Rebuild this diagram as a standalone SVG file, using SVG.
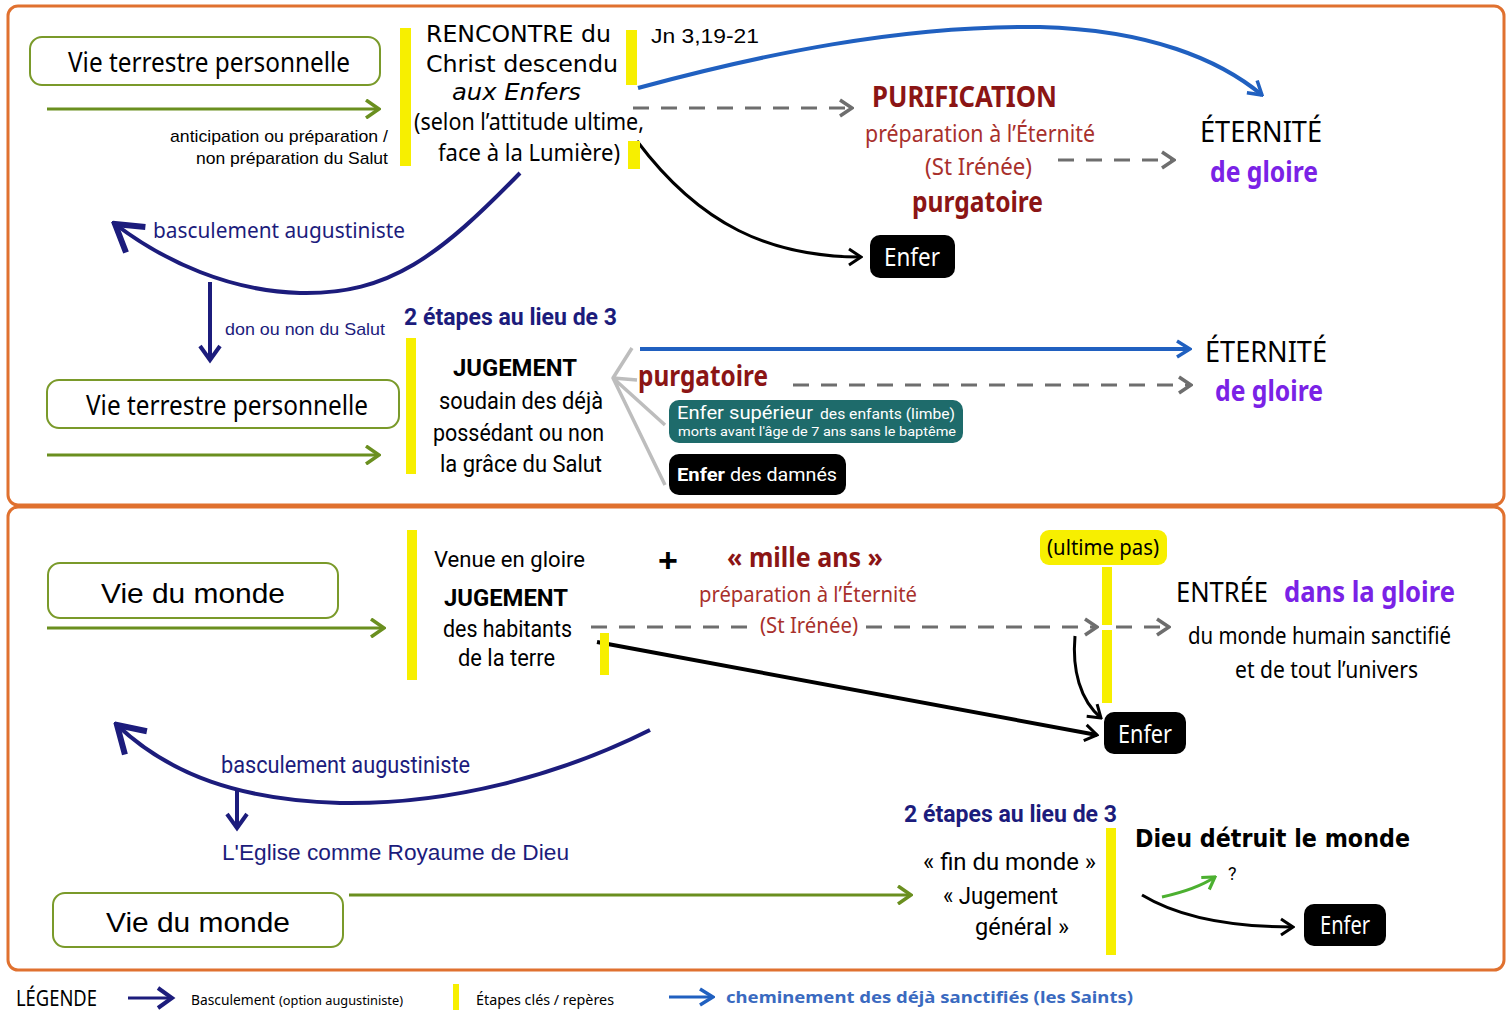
<svg xmlns="http://www.w3.org/2000/svg" width="1512" height="1020" viewBox="0 0 1512 1020">
<style>
.frame{fill:none;stroke:#e0712f;stroke-width:3}
.box{fill:#fff;stroke:#7a9a2a;stroke-width:2}
.yb{fill:#f7ef00}
.ns{font-family:"Noto Sans","Open Sans",sans-serif}
.ls{font-family:"Liberation Sans",Arial,sans-serif}
.rb{font-family:Roboto,"Liberation Sans",sans-serif}
.dv{font-family:"DejaVu Sans",sans-serif}
.dr{fill:#8b1515}
.rr{fill:#a8302c}
.pu{fill:#7a22e6}
.nv{fill:#1c1c7c}
.blk{fill:#000}
.wh{fill:#fff}
.green{fill:none;stroke:#6a8f1f;stroke-width:3}
.dash{fill:none;stroke:#6e6e6e;stroke-width:3;stroke-dasharray:16 12}
.navy{fill:none;stroke:#1c1c7c;stroke-width:4}
.blue{fill:none;stroke:#2060c0;stroke-width:4}
.black{fill:none;stroke:#000;stroke-width:3}
.enf{fill:#000}
</style>
<defs>
<marker id="mg" viewBox="0 0 20 20" refX="18" refY="10" markerWidth="20" markerHeight="20" orient="auto" markerUnits="userSpaceOnUse"><path d="M5,1 L18,10 L5,19" fill="none" stroke="#6a8f1f" stroke-width="3.5"/></marker>
<marker id="mgr" viewBox="0 0 20 20" refX="18" refY="10" markerWidth="20" markerHeight="20" orient="auto" markerUnits="userSpaceOnUse"><path d="M6,2 L18,10 L6,18" fill="none" stroke="#6e6e6e" stroke-width="3.5"/></marker>
<marker id="mb" viewBox="0 0 20 20" refX="18" refY="10" markerWidth="20" markerHeight="20" orient="auto" markerUnits="userSpaceOnUse"><path d="M6,2 L18,10 L6,18" fill="none" stroke="#000" stroke-width="3"/></marker>
<marker id="mn" viewBox="0 0 24 24" refX="20" refY="12" markerWidth="24" markerHeight="24" orient="auto" markerUnits="userSpaceOnUse"><path d="M6,2 L20,12 L6,22" fill="none" stroke="#1c1c7c" stroke-width="4"/></marker>
<marker id="mnb" viewBox="0 0 40 40" refX="36" refY="20" markerWidth="40" markerHeight="40" orient="auto" markerUnits="userSpaceOnUse"><path d="M10,4 L36,20 L10,36" fill="none" stroke="#1c1c7c" stroke-width="6"/></marker>
<marker id="mbl" viewBox="0 0 20 20" refX="18" refY="10" markerWidth="20" markerHeight="20" orient="auto" markerUnits="userSpaceOnUse"><path d="M5,2 L18,10 L5,18" fill="none" stroke="#2060c0" stroke-width="3.5"/></marker>
<marker id="mlg" viewBox="0 0 20 20" refX="18" refY="10" markerWidth="18" markerHeight="18" orient="auto" markerUnits="userSpaceOnUse"><path d="M5,2 L18,10 L5,18" fill="none" stroke="#4cb030" stroke-width="3.5"/></marker>
</defs>
<rect width="1512" height="1020" fill="#fff"/>
<rect class="frame" x="8" y="6" width="1496" height="499" rx="10"/>
<rect class="frame" x="8" y="507" width="1496" height="463" rx="10"/>

<g id="connectors">
<line class="green" x1="47" y1="109" x2="379" y2="109" marker-end="url(#mg)"/>
<line class="green" x1="47" y1="455" x2="379" y2="455" marker-end="url(#mg)"/>
<line class="green" x1="47" y1="628" x2="384" y2="628" marker-end="url(#mg)"/>
<line class="green" x1="349" y1="895" x2="911" y2="895" marker-end="url(#mg)"/>
<path class="blue" d="M638,88 C760,55 900,25 1040,27 C1150,30 1220,60 1262,95" marker-end="url(#mbl)"/>
<line class="dash" x1="633" y1="108" x2="852" y2="108" marker-end="url(#mgr)"/>
<line class="dash" x1="1058" y1="160" x2="1174" y2="160" marker-end="url(#mgr)"/>
<path class="black" d="M637,141 C700,225 770,257 861,257" marker-end="url(#mb)"/>
<path class="navy" d="M520,173 C440,255 390,295 300,293 C230,291 165,262 115,224" marker-end="url(#mnb)" stroke-width="4.5"/>
<line class="navy" x1="210" y1="282" x2="210" y2="360" marker-end="url(#mn)"/>
<line class="blue" x1="640" y1="349" x2="1190" y2="349" marker-end="url(#mbl)"/>
<line class="dash" x1="793" y1="385" x2="1191" y2="385" marker-end="url(#mgr)"/>
<path d="M632,348 L613,378 L637,380 M613,378 L665,425 M613,378 L665,485" fill="none" stroke="#bdbdbd" stroke-width="3.5" stroke-linejoin="round"/>
<line class="dash" x1="591" y1="627" x2="756" y2="627"/>
<line class="dash" x1="866" y1="627" x2="1097" y2="627" marker-end="url(#mgr)"/>
<line class="dash" x1="1116" y1="627" x2="1169" y2="627" stroke-dasharray="22 10" marker-end="url(#mgr)"/>
<line x1="597" y1="642" x2="1097" y2="735" stroke="#000" stroke-width="4" marker-end="url(#mb)"/>
<path class="black" d="M1075,636 C1072,670 1080,700 1101,718" marker-end="url(#mb)"/>
<path class="navy" d="M650,730 C560,775 450,805 340,803 C240,800 170,775 117,725" marker-end="url(#mnb)" stroke-width="5"/>
<line class="navy" x1="237" y1="790" x2="237" y2="828" marker-end="url(#mn)"/>
<path d="M1162,897 C1180,893 1200,887 1215,877" fill="none" stroke="#4cb030" stroke-width="3" marker-end="url(#mlg)"/>
<path class="black" d="M1142,895 C1180,918 1230,927 1293,927" marker-end="url(#mb)"/>
</g>

<g id="stages">
<rect class="yb" x="400" y="28" width="11" height="138"/>
<rect class="yb" x="626" y="30" width="11" height="55"/>
<rect class="yb" x="628" y="141" width="12" height="28"/>
<rect class="yb" x="406" y="338" width="10" height="136"/>
<rect class="yb" x="407" y="530" width="10" height="150"/>
<rect class="yb" x="600" y="633" width="9" height="42"/>
<rect class="yb" x="1102" y="567" width="10" height="58"/>
<rect class="yb" x="1102" y="630" width="10" height="73"/>
<rect class="yb" x="1106" y="828" width="10" height="127"/>
</g>

<g id="n-vie1">
<rect class="box" x="30" y="37" width="350" height="48" rx="12"/>
<text class="ns blk" x="68" y="72" font-size="27" textLength="282" lengthAdjust="spacingAndGlyphs">Vie terrestre personnelle</text>
<text class="ls blk" x="170" y="142" font-size="17" textLength="218" lengthAdjust="spacingAndGlyphs">anticipation ou préparation /</text>
<text class="ls blk" x="196" y="164" font-size="17" textLength="192" lengthAdjust="spacingAndGlyphs">non préparation du Salut</text>
</g>

<g id="n-rencontre">
<text class="dv blk" x="426" y="42" font-size="23" textLength="185" lengthAdjust="spacingAndGlyphs">RENCONTRE du</text>
<text class="dv blk" x="426" y="72" font-size="23" textLength="192" lengthAdjust="spacingAndGlyphs">Christ descendu</text>
<text class="dv blk" x="452" y="100" font-size="23" font-style="italic" textLength="129" lengthAdjust="spacingAndGlyphs">aux Enfers</text>
<text class="ns blk" x="414" y="130" font-size="23" textLength="230" lengthAdjust="spacingAndGlyphs">(selon l’attitude ultime,</text>
<text class="ns blk" x="438" y="161" font-size="23" textLength="182" lengthAdjust="spacingAndGlyphs">face à la Lumière)</text>
<text class="ls blk" x="651" y="43" font-size="21" textLength="108" lengthAdjust="spacingAndGlyphs">Jn 3,19-21</text>
</g>

<g id="n-purification">
<text class="ns dr" x="872" y="107" font-size="28" font-weight="bold" textLength="185" lengthAdjust="spacingAndGlyphs">PURIFICATION</text>
<text class="ns rr" x="865" y="142" font-size="23" textLength="230" lengthAdjust="spacingAndGlyphs">préparation à l’Éternité</text>
<text class="ns rr" x="925" y="175" font-size="23" textLength="107" lengthAdjust="spacingAndGlyphs">(St Irénée)</text>
<text class="ns dr" x="912" y="212" font-size="28" font-weight="bold" textLength="131" lengthAdjust="spacingAndGlyphs">purgatoire</text>
</g>

<g id="n-eternite1">
<text class="ns blk" x="1200" y="142" font-size="29" textLength="122" lengthAdjust="spacingAndGlyphs">ÉTERNITÉ</text>
<text class="ns pu" x="1210" y="182" font-size="28" font-weight="bold" textLength="108" lengthAdjust="spacingAndGlyphs">de gloire</text>
</g>

<g id="n-enfer1">
<rect class="enf" x="870" y="235" width="85" height="43" rx="10"/>
<text class="ns wh" x="884" y="266" font-size="25" textLength="56" lengthAdjust="spacingAndGlyphs">Enfer</text>
</g>

<g id="n-bascule1">
<text class="ns nv" x="153" y="238" font-size="22" textLength="252" lengthAdjust="spacingAndGlyphs">basculement augustiniste</text>
<text class="ls nv" x="225" y="335" font-size="17" textLength="160" lengthAdjust="spacingAndGlyphs">don ou non du Salut</text>
</g>

<g id="n-vie2">
<rect class="box" x="47" y="380" width="352" height="48" rx="12"/>
<text class="ns blk" x="86" y="415" font-size="27" textLength="282" lengthAdjust="spacingAndGlyphs">Vie terrestre personnelle</text>
</g>

<g id="n-jugement1">
<text class="rb nv" x="404" y="325" font-size="23" font-weight="bold" textLength="213" lengthAdjust="spacingAndGlyphs">2 étapes au lieu de 3</text>
<text class="rb blk" x="453" y="376" font-size="24" font-weight="bold" textLength="124" lengthAdjust="spacingAndGlyphs">JUGEMENT</text>
<text class="rb blk" x="439" y="409" font-size="24" textLength="164" lengthAdjust="spacingAndGlyphs">soudain des déjà</text>
<text class="rb blk" x="433" y="441" font-size="24" textLength="171" lengthAdjust="spacingAndGlyphs">possédant ou non</text>
<text class="rb blk" x="440" y="472" font-size="24" textLength="162" lengthAdjust="spacingAndGlyphs">la grâce du Salut</text>
</g>

<g id="n-purgatoire2">
<text class="ns dr" x="638" y="386" font-size="28" font-weight="bold" textLength="130" lengthAdjust="spacingAndGlyphs">purgatoire</text>
</g>

<g id="n-limbe">
<rect x="669" y="400" width="294" height="43" rx="10" fill="#1e6b6b"/>
<text class="rb wh" x="677" y="419" font-size="19" textLength="136" lengthAdjust="spacingAndGlyphs">Enfer supérieur</text>
<text class="rb wh" x="820" y="419" font-size="14" textLength="135" lengthAdjust="spacingAndGlyphs">des enfants (limbe)</text>
<text class="rb wh" x="678" y="436" font-size="13" textLength="278" lengthAdjust="spacingAndGlyphs">morts avant l'âge de 7 ans sans le baptême</text>
</g>

<g id="n-damnes">
<rect class="enf" x="669" y="454" width="177" height="41" rx="10"/>
<text class="rb wh" x="677" y="481" font-size="19" font-weight="bold" textLength="48" lengthAdjust="spacingAndGlyphs">Enfer</text>
<text class="rb wh" x="730" y="481" font-size="19" textLength="107" lengthAdjust="spacingAndGlyphs">des damnés</text>
</g>

<g id="n-eternite2">
<text class="ns blk" x="1205" y="362" font-size="29" textLength="122" lengthAdjust="spacingAndGlyphs">ÉTERNITÉ</text>
<text class="ns pu" x="1215" y="401" font-size="28" font-weight="bold" textLength="108" lengthAdjust="spacingAndGlyphs">de gloire</text>
</g>

<g id="n-monde1">
<rect class="box" x="48" y="563" width="290" height="55" rx="12"/>
<text class="ls blk" x="101" y="603" font-size="28" textLength="184" lengthAdjust="spacingAndGlyphs">Vie du monde</text>
</g>

<g id="n-venue">
<text class="rb blk" x="434" y="567" font-size="22" textLength="151" lengthAdjust="spacingAndGlyphs">Venue en gloire</text>
<text class="rb blk" x="444" y="606" font-size="24" font-weight="bold" textLength="124" lengthAdjust="spacingAndGlyphs">JUGEMENT</text>
<text class="rb blk" x="443" y="637" font-size="24" textLength="129" lengthAdjust="spacingAndGlyphs">des habitants</text>
<text class="rb blk" x="458" y="666" font-size="24" textLength="97" lengthAdjust="spacingAndGlyphs">de la terre</text>
<text class="ls blk" x="668" y="572" font-size="34" font-weight="bold" text-anchor="middle">+</text>
</g>

<g id="n-mille">
<text class="ns dr" x="727" y="567" font-size="27" font-weight="bold" textLength="156" lengthAdjust="spacingAndGlyphs">« mille ans »</text>
<text class="ns rr" x="699" y="602" font-size="22" textLength="218" lengthAdjust="spacingAndGlyphs">préparation à l’Éternité</text>
<text class="ns rr" x="760" y="633" font-size="22" textLength="98" lengthAdjust="spacingAndGlyphs">(St Irénée)</text>
</g>

<g id="n-ultime">
<rect x="1040" y="530" width="127" height="35" rx="9" fill="#f7ef00"/>
<text class="ns blk" x="1047" y="555" font-size="22" textLength="112" lengthAdjust="spacingAndGlyphs">(ultime pas)</text>
</g>

<g id="n-entree">
<text class="ns blk" x="1176" y="602" font-size="28" textLength="92" lengthAdjust="spacingAndGlyphs">ENTRÉE</text>
<text class="ns pu" x="1284" y="602" font-size="28" font-weight="bold" textLength="171" lengthAdjust="spacingAndGlyphs">dans la gloire</text>
<text class="ns blk" x="1188" y="644" font-size="23" textLength="263" lengthAdjust="spacingAndGlyphs">du monde humain sanctifié</text>
<text class="ns blk" x="1235" y="678" font-size="23" textLength="183" lengthAdjust="spacingAndGlyphs">et de tout l’univers</text>
</g>

<g id="n-enfer2">
<rect class="enf" x="1104" y="712" width="82" height="42" rx="10"/>
<text class="ns wh" x="1118" y="743" font-size="25" textLength="54" lengthAdjust="spacingAndGlyphs">Enfer</text>
</g>

<g id="n-bascule2">
<text class="rb nv" x="221" y="773" font-size="23" textLength="249" lengthAdjust="spacingAndGlyphs">basculement augustiniste</text>
<text class="ls nv" x="222" y="860" font-size="22" textLength="347" lengthAdjust="spacingAndGlyphs">L'Eglise comme Royaume de Dieu</text>
</g>

<g id="n-monde2">
<rect class="box" x="53" y="893" width="290" height="54" rx="12"/>
<text class="ls blk" x="106" y="932" font-size="28" textLength="184" lengthAdjust="spacingAndGlyphs">Vie du monde</text>
</g>

<g id="n-findumonde">
<text class="rb nv" x="904" y="822" font-size="23" font-weight="bold" textLength="213" lengthAdjust="spacingAndGlyphs">2 étapes au lieu de 3</text>
<text class="rb blk" x="923" y="870" font-size="24" textLength="173" lengthAdjust="spacingAndGlyphs">« fin du monde »</text>
<text class="rb blk" x="943" y="904" font-size="24" textLength="115" lengthAdjust="spacingAndGlyphs">« Jugement</text>
<text class="rb blk" x="975" y="935" font-size="24" textLength="94" lengthAdjust="spacingAndGlyphs">général »</text>
</g>

<g id="n-detruit">
<text class="dv blk" x="1135" y="847" font-size="25" font-weight="bold" textLength="275" lengthAdjust="spacingAndGlyphs">Dieu détruit le monde</text>
<text class="rb blk" x="1228" y="880" font-size="18">?</text>
</g>

<g id="n-enfer3">
<rect class="enf" x="1304" y="904" width="82" height="42" rx="10"/>
<text class="ns wh" x="1320" y="934" font-size="25" textLength="50" lengthAdjust="spacingAndGlyphs">Enfer</text>
</g>

<g id="legend">
<text class="ns blk" x="16" y="1006" font-size="22" textLength="81" lengthAdjust="spacingAndGlyphs">LÉGENDE</text>
<line x1="128" y1="998" x2="172" y2="998" stroke="#1c1c7c" stroke-width="3" marker-end="url(#mn)"/>
<text class="ns blk" x="191" y="1005" font-size="15" textLength="84" lengthAdjust="spacingAndGlyphs">Basculement</text>
<text class="ns blk" x="279" y="1005" font-size="13" textLength="124" lengthAdjust="spacingAndGlyphs">(option augustiniste)</text>
<rect class="yb" x="453" y="984" width="6" height="26"/>
<text class="ns blk" x="476" y="1005" font-size="15" textLength="138" lengthAdjust="spacingAndGlyphs">Étapes clés / repères</text>
<line x1="669" y1="997" x2="713" y2="997" stroke="#2060c0" stroke-width="3" marker-end="url(#mbl)"/>
<text class="ns" x="726" y="1003" font-size="16" font-weight="bold" fill="#3a6ac0" textLength="407" lengthAdjust="spacingAndGlyphs">cheminement des déjà sanctifiés (les Saints)</text>
</g>
</svg>
